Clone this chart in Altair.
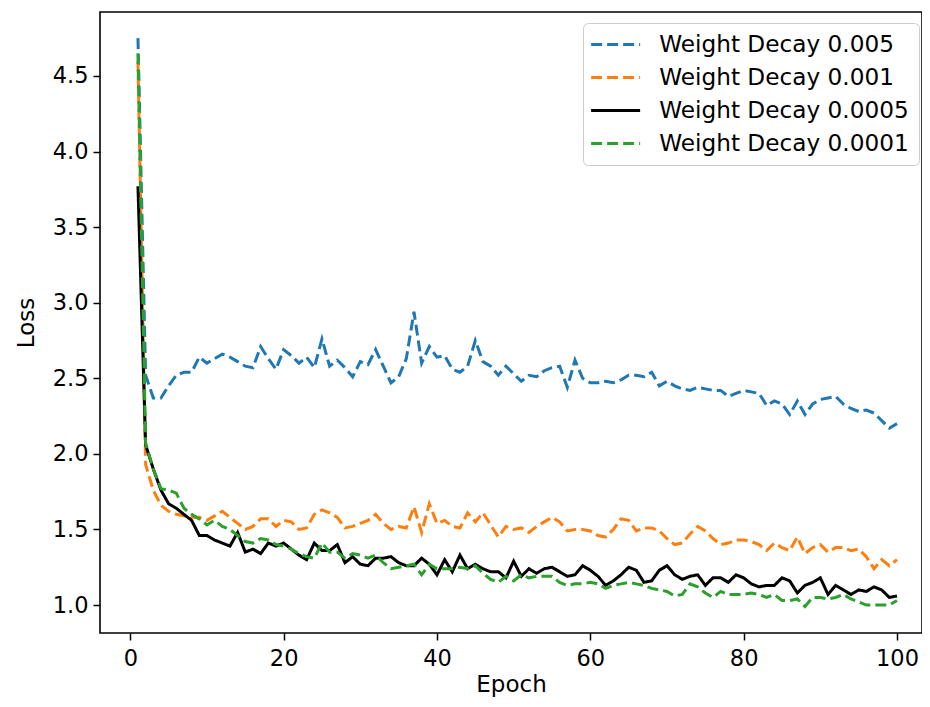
import altair as alt
import pandas as pd

epochs = list(range(1, 101))

series_names = [
    "Weight Decay 0.005",
    "Weight Decay 0.001",
    "Weight Decay 0.0005",
    "Weight Decay 0.0001",
]

wd_0005 = [
    4.75, 2.52, 2.37, 2.37, 2.45, 2.52, 2.54, 2.54, 2.64, 2.60,
    2.63, 2.66, 2.64, 2.61, 2.58, 2.57, 2.71, 2.63, 2.56, 2.69,
    2.65, 2.60, 2.64, 2.57, 2.76, 2.58, 2.62, 2.57, 2.51, 2.61,
    2.59, 2.69, 2.58, 2.47, 2.51, 2.63, 2.94, 2.60, 2.71, 2.64,
    2.65, 2.56, 2.54, 2.58, 2.75, 2.61, 2.58, 2.52, 2.58, 2.53,
    2.48, 2.52, 2.51, 2.55, 2.57, 2.58, 2.44, 2.62, 2.50, 2.47,
    2.47, 2.48, 2.47, 2.49, 2.52, 2.52, 2.51, 2.54, 2.45, 2.48,
    2.45, 2.43, 2.42, 2.44, 2.43, 2.42, 2.42, 2.38, 2.40, 2.42,
    2.41, 2.40, 2.32, 2.35, 2.33, 2.26, 2.35, 2.26, 2.33, 2.36,
    2.37, 2.38, 2.33, 2.30, 2.28, 2.29, 2.27, 2.22, 2.17, 2.20,
]

wd_001 = [
    4.60, 1.93, 1.76, 1.66, 1.62, 1.60, 1.59, 1.58, 1.58, 1.56,
    1.59, 1.62, 1.58, 1.54, 1.50, 1.52, 1.57, 1.57, 1.52, 1.56,
    1.55, 1.50, 1.51, 1.60, 1.63, 1.61, 1.58, 1.51, 1.52, 1.54,
    1.56, 1.60, 1.54, 1.50, 1.52, 1.51, 1.65, 1.48, 1.67, 1.54,
    1.56, 1.52, 1.51, 1.61, 1.55, 1.61, 1.53, 1.45, 1.52, 1.50,
    1.51, 1.48, 1.52, 1.55, 1.58, 1.55, 1.49, 1.50, 1.50, 1.49,
    1.46, 1.45, 1.50, 1.57, 1.56, 1.49, 1.51, 1.51, 1.49, 1.44,
    1.40, 1.41, 1.47, 1.52, 1.49, 1.44, 1.40, 1.41, 1.43, 1.43,
    1.42, 1.40, 1.36, 1.41, 1.38, 1.36, 1.45, 1.34, 1.38, 1.40,
    1.35, 1.38, 1.38, 1.36, 1.37, 1.32, 1.24, 1.30, 1.26, 1.30,
]

wd_00005 = [
    3.77, 2.06, 1.90, 1.76, 1.67, 1.64, 1.60, 1.56, 1.46, 1.46,
    1.43, 1.41, 1.39, 1.48, 1.35, 1.37, 1.34, 1.41, 1.39, 1.41,
    1.37, 1.33, 1.30, 1.41, 1.36, 1.36, 1.40, 1.28, 1.32, 1.27,
    1.26, 1.31, 1.31, 1.32, 1.28, 1.26, 1.26, 1.31, 1.27, 1.20,
    1.30, 1.22, 1.33, 1.24, 1.27, 1.24, 1.22, 1.22, 1.18, 1.29,
    1.19, 1.24, 1.21, 1.24, 1.25, 1.22, 1.19, 1.20, 1.26, 1.23,
    1.19, 1.13, 1.16, 1.20, 1.25, 1.23, 1.15, 1.16, 1.23, 1.26,
    1.20, 1.17, 1.19, 1.20, 1.13, 1.18, 1.18, 1.15, 1.20, 1.18,
    1.14, 1.12, 1.13, 1.13, 1.18, 1.16, 1.08, 1.13, 1.15, 1.18,
    1.07, 1.13, 1.10, 1.07, 1.10, 1.09, 1.12, 1.10, 1.05, 1.06,
]

wd_00001 = [
    4.65, 2.07, 1.90, 1.77, 1.76, 1.74, 1.64, 1.60, 1.57, 1.53,
    1.56, 1.52, 1.50, 1.46, 1.42, 1.41, 1.44, 1.43, 1.40, 1.39,
    1.37, 1.34, 1.32, 1.31, 1.41, 1.35, 1.35, 1.31, 1.34, 1.33,
    1.31, 1.33, 1.28, 1.24, 1.25, 1.26, 1.27, 1.20, 1.27, 1.24,
    1.24, 1.24, 1.25, 1.24, 1.26, 1.21, 1.17, 1.15, 1.19, 1.16,
    1.20, 1.18, 1.19, 1.19, 1.19, 1.15, 1.13, 1.14, 1.14, 1.15,
    1.14, 1.11, 1.13, 1.14, 1.15, 1.14, 1.13, 1.11, 1.10, 1.09,
    1.06, 1.07, 1.14, 1.12, 1.08, 1.05, 1.09, 1.07, 1.07, 1.07,
    1.08, 1.07, 1.05, 1.07, 1.03, 1.03, 1.04, 0.99, 1.05, 1.05,
    1.04, 1.05, 1.07, 1.04, 1.02, 1.00, 1.00, 1.00, 1.00, 1.03,
]

colors = ["#1f77b4", "#ff7f0e", "#000000", "#2ca02c"]
dashes = [[11, 5], [11, 5], [1, 0], [11, 5]]

x_ticks = [0, 20, 40, 60, 80, 100]
y_ticks = [1.0, 1.5, 2.0, 2.5, 3.0, 3.5, 4.0, 4.5]

rows = []
for name, vals in zip(series_names, [wd_0005, wd_001, wd_00005, wd_00001]):
    for e, v in zip(epochs, vals):
        rows.append({"Epoch": e, "Loss": v, "series": name})
df = pd.DataFrame(rows)

FONT = "DejaVu Sans"

legend = alt.Legend(
    title=None,
    orient="none",
    legendX=483,
    legendY=11,
    symbolType="M-1.65,0H4.35",
    symbolSize=267,
    symbolStrokeWidth=3,
    labelFontSize=23.2,
    labelFont=FONT,
    labelColor="black",
    labelOffset=43,
    rowPadding=9,
    padding=10,
    strokeColor="#cccccc",
    fillColor="white",
    cornerRadius=5,
    labelLimit=400,
)

chart = (
    alt.Chart(df)
    .mark_line(strokeWidth=3, clip=True)
    .encode(
        x=alt.X(
            "Epoch:Q",
            scale=alt.Scale(domain=[-3.95, 103.26], nice=False, zero=False),
            axis=alt.Axis(values=x_ticks, format="d", title="Epoch"),
        ),
        y=alt.Y(
            "Loss:Q",
            scale=alt.Scale(domain=[0.815, 4.923], nice=False, zero=False),
            axis=alt.Axis(values=y_ticks, format=".1f", title="Loss"),
        ),
        color=alt.Color(
            "series:N",
            scale=alt.Scale(domain=series_names, range=colors),
            legend=legend,
        ),
        strokeDash=alt.StrokeDash(
            "series:N",
            scale=alt.Scale(domain=series_names, range=dashes),
            legend=legend,
        ),
        order=alt.Order("Epoch:Q"),
    )
    .properties(
        width=822,
        height=621,
        autosize=alt.AutoSizeParams(type="none"),
        padding={"left": 92, "top": 4, "right": 0, "bottom": 66},
    )
    .configure_view(stroke="black", strokeWidth=1.6)
    .configure_axis(
        grid=False,
        domain=False,
        tickColor="black",
        tickWidth=1.5,
        tickSize=7,
        labelFont=FONT,
        labelFontSize=22.5,
        labelColor="black",
        titleFont=FONT,
        titleFontSize=23,
        titleFontWeight="normal",
        titleColor="black",
    )
    .configure_axisX(labelPadding=7, titlePadding=4)
    .configure_axisY(labelPadding=5, titlePadding=14)
)

chart.save("out.html", embed_options={"renderer": "svg", "actions": False})
